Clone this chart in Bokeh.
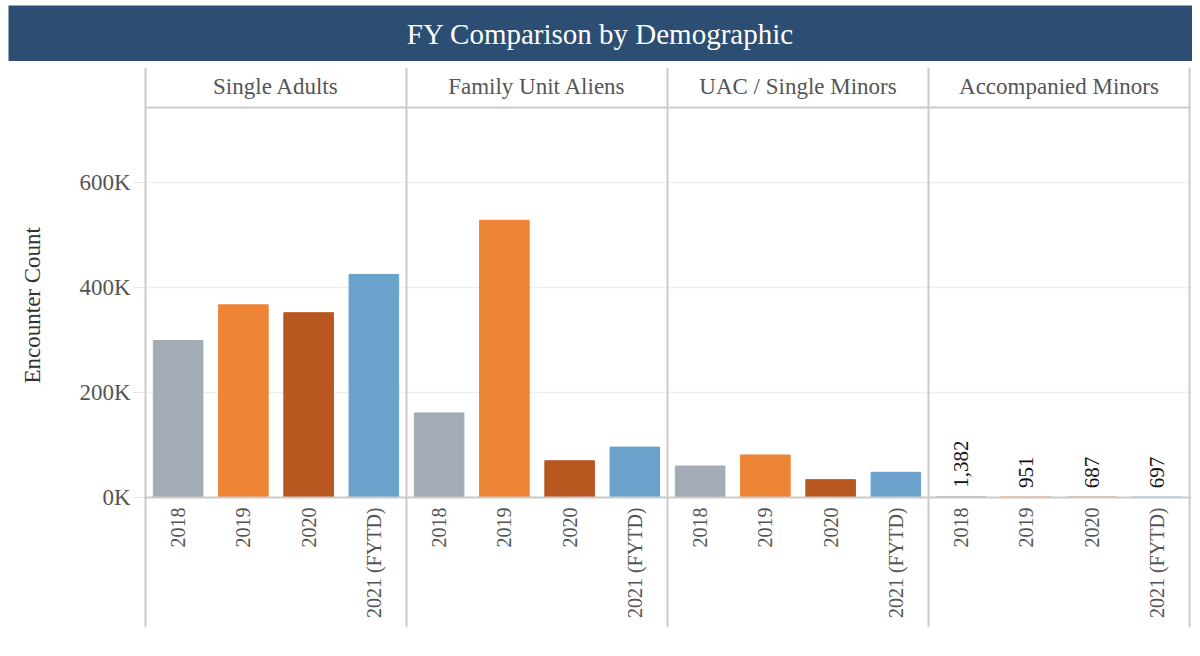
import math
from bokeh.plotting import figure
from bokeh.models import FactorRange, Range1d, FixedTicker, Label, Title, ColumnDataSource
from bokeh.layouts import column, row
from bokeh.core.properties import value
from bokeh.embed import file_html
from bokeh.resources import INLINE

# ---------------- data ----------------
groups = ["Single Adults", "Family Unit Aliens", "UAC / Single Minors", "Accompanied Minors"]
years = ["2018", "2019", "2020", "2021 (FYTD)"]
single_adults = [299000, 367000, 352000, 425000]
family_unit_aliens = [161000, 528000, 70000, 96000]
uac_single_minors = [60000, 81000, 34000, 48000]
accompanied_minors = [1382, 951, 687, 697]
year_colors = ["#A3ABB7", "#EE8436", "#B8571F", "#6BA2CC"]
y_ticks = [0, 200000, 400000, 600000]
title_text = "FY Comparison by Demographic"
y_title = "Encounter Count"
labelled_group = "Accompanied Minors"

# ---------------- style / layout ----------------
FONT = "Liberation Serif"
BANNER = "#2C4E73"
LINE = "#cbcbcb"
FIG_W = 1184
BANNER_H = 56
MAIN_H = 578
LEFT_BORDER = 135
FIG_TOP_PX = 61                              # page y of main figure top
FRAME_TOP_PX, FRAME_BOTTOM_PX = 67, 627      # page pixels
ZERO_PX = 497
PX_PER_UNIT = 105 / 200000


def px_to_val(py):
    return (ZERO_PX - py) / PX_PER_UNIT


series = [single_adults, family_unit_aliens, uac_single_minors, accompanied_minors]
factors = [(g, y) for g in groups for y in years]
counts = [v for s in series for v in s]
colors = year_colors * len(groups)
src = ColumnDataSource(dict(x=factors, counts=counts, color=colors))

y_lo, y_hi = px_to_val(FRAME_BOTTOM_PX), px_to_val(FRAME_TOP_PX)

p = figure(
    width=FIG_W, height=MAIN_H,
    x_range=FactorRange(factors=factors, group_padding=0, factor_padding=0,
                        range_padding=0.0307, range_padding_units="absolute"),
    y_range=Range1d(y_lo, y_hi),
    output_backend="svg", toolbar_location=None,
    min_border_left=LEFT_BORDER, min_border_right=1,
    min_border_top=FRAME_TOP_PX - FIG_TOP_PX, min_border_bottom=12,
    outline_line_color=None, background_fill_color="white", border_fill_color="white",
)
p.title.visible = False

# grid
p.xgrid.visible = False
p.ygrid.ticker = FixedTicker(ticks=y_ticks)
p.ygrid.grid_line_color = "#efefef"
p.ygrid.grid_line_width = 1.5

# bars
p.vbar(x="x", top="counts", width=0.76, source=src, fill_color="color", line_color="color")

# panel separators & header line
bounds = [(g, years[0], -0.5) for g in groups] + [(groups[-1], years[-1], 0.5)]
p.segment(x0=bounds, x1=bounds, y0=[y_lo] * len(bounds), y1=[y_hi] * len(bounds),
          line_color=LINE, line_width=2)
header_line = px_to_val(107)
p.segment(x0=[bounds[0]], x1=[bounds[-1]], y0=[header_line], y1=[header_line],
          line_color=LINE, line_width=2)

# panel headers
p.text(x=groups, y=[px_to_val(86)] * len(groups), text=groups,
       text_align="center", text_baseline="middle",
       text_font=value(FONT), text_font_size="23px", text_color="#555555")

# value labels for the accompanied minors panel
gi = groups.index(labelled_group)
p.text(x=[(labelled_group, y) for y in years], y=series[gi],
       text=[f"{v:,}" for v in series[gi]],
       angle=math.pi / 2, text_align="left", text_baseline="middle", y_offset=-9,
       text_font=value(FONT), text_font_size="21px", text_color="#111111")

# x axis drawn at zero
xa = p.xaxis[0]
xa.fixed_location = 0
xa.major_label_orientation = math.pi / 2
xa.major_label_text_font = FONT
xa.major_label_text_font_size = "20px"
xa.major_label_text_color = "#555555"
xa.major_tick_line_color = None
xa.major_tick_out = 0
xa.major_tick_in = 0
xa.major_label_standoff = 10
xa.group_text_color = None
xa.group_text_font_size = "1px"
xa.separator_line_color = None
xa.axis_line_color = LINE
xa.axis_line_width = 2

# y axis
ya = p.yaxis[0]
ya.ticker = FixedTicker(ticks=y_ticks)
ya.major_label_overrides = {t: f"{t // 1000}K" for t in y_ticks}
ya.axis_line_color = None
ya.major_tick_line_color = "#e6e6e6"
ya.major_tick_out = 10
ya.major_tick_in = 0
ya.minor_tick_line_color = None
ya.major_label_standoff = 3
ya.major_label_text_font = FONT
ya.major_label_text_font_size = "23px"
ya.major_label_text_color = "#555555"

# y title as a left-side title
p.add_layout(Title(text=y_title + "\n", align="left", offset=FRAME_BOTTOM_PX - 383,
                   vertical_align="top", standoff=10,
                   text_font=FONT, text_font_size="23px", text_font_style="normal",
                   text_color="#333333"), "left")

# banner
b = figure(width=FIG_W, height=BANNER_H, x_range=Range1d(0, 1), y_range=Range1d(0, 1),
           output_backend="svg", toolbar_location=None, min_border=0,
           x_axis_type=None, y_axis_type=None,
           background_fill_color=BANNER, border_fill_color=BANNER,
           outline_line_color=None)
b.title.visible = False
b.add_layout(Label(x=FIG_W / 2, y=BANNER_H / 2, x_units="canvas", y_units="canvas",
                   text=title_text, text_align="center", text_baseline="middle",
                   text_color="white", text_font=FONT, text_font_size="29px"))

layout = column(row(b), p, spacing=0, margin=(5, 0, 0, 8))
open("out.html", "w").write(file_html(layout, INLINE))
